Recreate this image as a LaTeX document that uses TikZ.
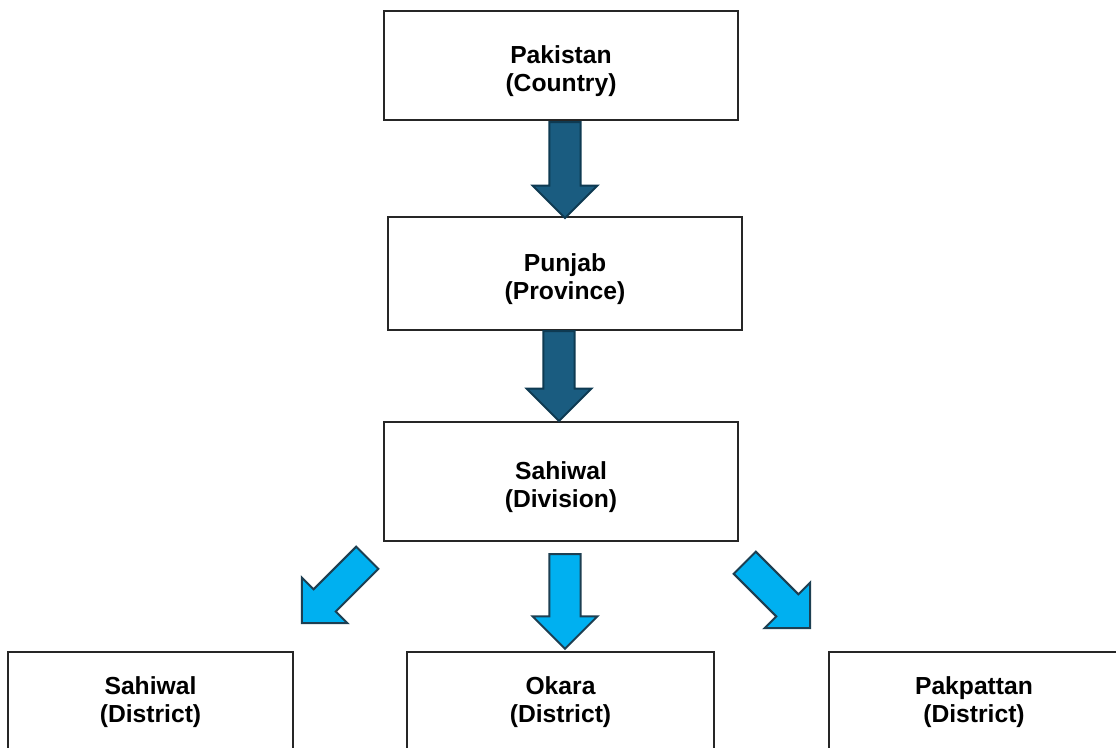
\documentclass[tikz,border=0pt]{standalone}
\usepackage{fontspec}
\setmainfont{Liberation Sans}
\usetikzlibrary{shapes.arrows}

\definecolor{darkfill}{HTML}{1A5C80}
\definecolor{darkline}{HTML}{0E3A52}
\definecolor{lightfill}{HTML}{00B0F0}
\definecolor{lightline}{HTML}{1D3F52}

\tikzset{
  unit/.style={draw=black!85, line width=1.1pt, fill=white, align=center,
    font=\bfseries\fontsize{18.5}{21.5}\selectfont},
  upperunit/.style={unit, text height=43.5pt},
  blockarrow/.style={single arrow, line width=1.5pt, inner xsep=0pt, inner ysep=11pt,
    single arrow head extend=12.5pt, minimum height=#1, anchor=tail},
  darkarrow/.style={blockarrow=#1, fill=darkfill, draw=darkline},
  lightarrow/.style={blockarrow=#1, fill=lightfill, draw=lightline},
}

\begin{document}
\begin{tikzpicture}[x=0.75pt, y=-0.75pt]
    \useasboundingbox (0,0) rectangle (1116,747);
    \clip (0,0) rectangle (1116,747);

      % upper levels
      \node[upperunit, minimum width=265.5pt, minimum height=81.75pt] (pak) at (561,65.5) {Pakistan\\(Country)};
      \node[upperunit, minimum width=265.5pt, minimum height=84.75pt] (pun) at (565,273.5) {Punjab\\(Province)};
      \node[upperunit, minimum width=265.5pt, minimum height=89.25pt] (div) at (561,481.5) {Sahiwal\\(Division)};

      % districts, cut by the lower edge
      \node[unit, minimum width=213.75pt, minimum height=75pt] (dsah) at (150.5,702) {Sahiwal\\(District)};
      \node[unit, minimum width=230.25pt, minimum height=75pt] (dok) at (560.5,702) {Okara\\(District)};
      \node[unit, minimum width=217.5pt, minimum height=75pt] (dpak) at (974,702) {Pakpattan\\(District)};

      % block arrows
      \node[darkarrow=72pt, rotate=-90] (a1) at (565,121) {};
      \node[darkarrow=67.5pt, rotate=-90] (a2) at (559,330) {};
      \node[lightarrow=71pt, rotate=-90] (a3) at (565,553) {};
      \node[lightarrow=69.5pt, rotate=-135] (a4) at (368,557) {};
      \node[lightarrow=69.5pt, rotate=-45] (a5) at (744,562) {};
\end{tikzpicture}
\end{document}
